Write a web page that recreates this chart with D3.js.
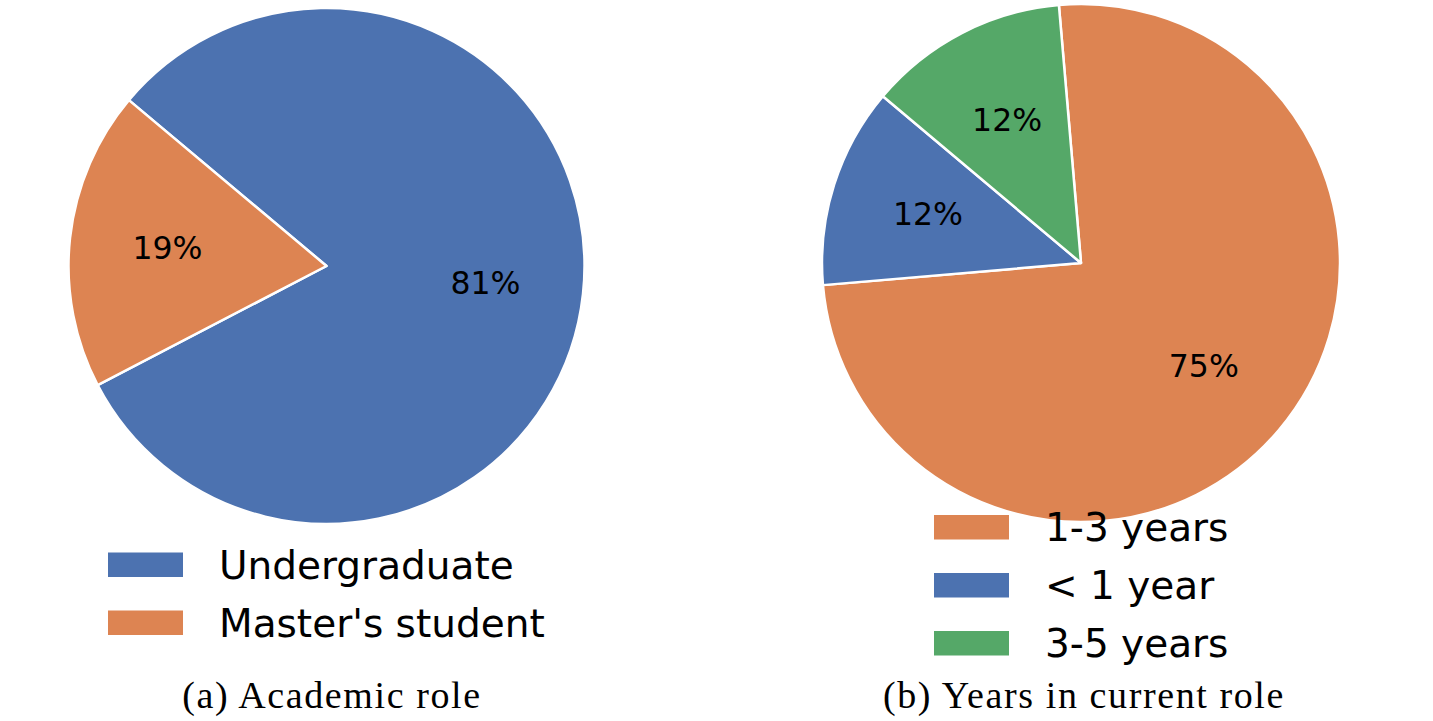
<!DOCTYPE html>
<html><head><meta charset="utf-8">
<script src="https://cdn.jsdelivr.net/npm/d3@7"></script>
<style>body{margin:0;background:#fff}svg{display:block}</style>
</head><body>
<svg id="c" width="1433" height="721"></svg>
<script>
// Data
const roleLabels = ["Undergraduate", "Master's student"];
const roleValues = [81.25, 18.75];
const roleColors = ["#4c72b0", "#dd8452"];
const roleStartDeg = -50;

const yearsLabels = ["1-3 years", "< 1 year", "3-5 years"];
const yearsValues = [75, 12.5, 12.5];
const yearsColors = ["#dd8452", "#4c72b0", "#55a868"];
const yearsStartDeg = -4.9;

const captions = ["(a) Academic role", "(b) Years in current role"];

const svg = d3.select("#c");

// round half to even (like Python's %1.0f)
function roundEven(x) {
  const f = Math.floor(x), d = x - f;
  if (Math.abs(d - 0.5) < 1e-9) return f % 2 === 0 ? f : f + 1;
  return Math.round(x);
}

function drawPie(cfg) {
  const {labels, values, colors, startDeg, cx, cy, r, legendX, legendY, caption, capX} = cfg;
  const s = startDeg * Math.PI / 180;
  const pie = d3.pie().sort(null).startAngle(s).endAngle(s + 2 * Math.PI);
  const arcs = pie(values);
  const arc = d3.arc().innerRadius(0).outerRadius(r);
  const lab = d3.arc().innerRadius(r * 0.62).outerRadius(r * 0.62);
  const total = d3.sum(values);
  const g = svg.append("g").attr("transform", `translate(${cx},${cy})`);
  g.selectAll("path").data(arcs).join("path")
    .attr("d", arc).attr("fill", (d, i) => colors[i])
    .attr("stroke", "#fff").attr("stroke-width", 2.5).attr("stroke-linejoin", "round");
  g.selectAll("text").data(arcs).join("text")
    .attr("transform", d => `translate(${lab.centroid(d)})`)
    .attr("text-anchor", "middle").attr("dy", "0.33em")
    .attr("font-family", "DejaVu Sans").attr("font-size", 31.5)
    .text(d => roundEven(d.value / total * 100) + "%");
  const lg = svg.append("g").attr("transform", `translate(${legendX},${legendY})`);
  labels.forEach((l, i) => {
    lg.append("rect").attr("x", 0).attr("y", i * 58).attr("width", 75).attr("height", 24.5).attr("fill", colors[i]);
    lg.append("text").attr("x", 111).attr("y", i * 58 + 12.3).attr("dy", "0.36em")
      .attr("font-family", "DejaVu Sans").attr("font-size", 39).text(l);
  });
  svg.append("text").attr("x", capX).attr("y", 708).attr("text-anchor", "middle")
    .attr("font-family", "Liberation Serif").attr("font-size", 38)
    .attr("letter-spacing", 1.6).text(caption);
}

drawPie({labels: roleLabels, values: roleValues, colors: roleColors, startDeg: roleStartDeg,
  cx: 326.5, cy: 266, r: 258, legendX: 108, legendY: 552.5, caption: captions[0], capX: 332});
drawPie({labels: yearsLabels, values: yearsValues, colors: yearsColors, startDeg: yearsStartDeg,
  cx: 1081, cy: 263, r: 259, legendX: 934, legendY: 515, caption: captions[1], capX: 1084});
</script>
</body></html>
